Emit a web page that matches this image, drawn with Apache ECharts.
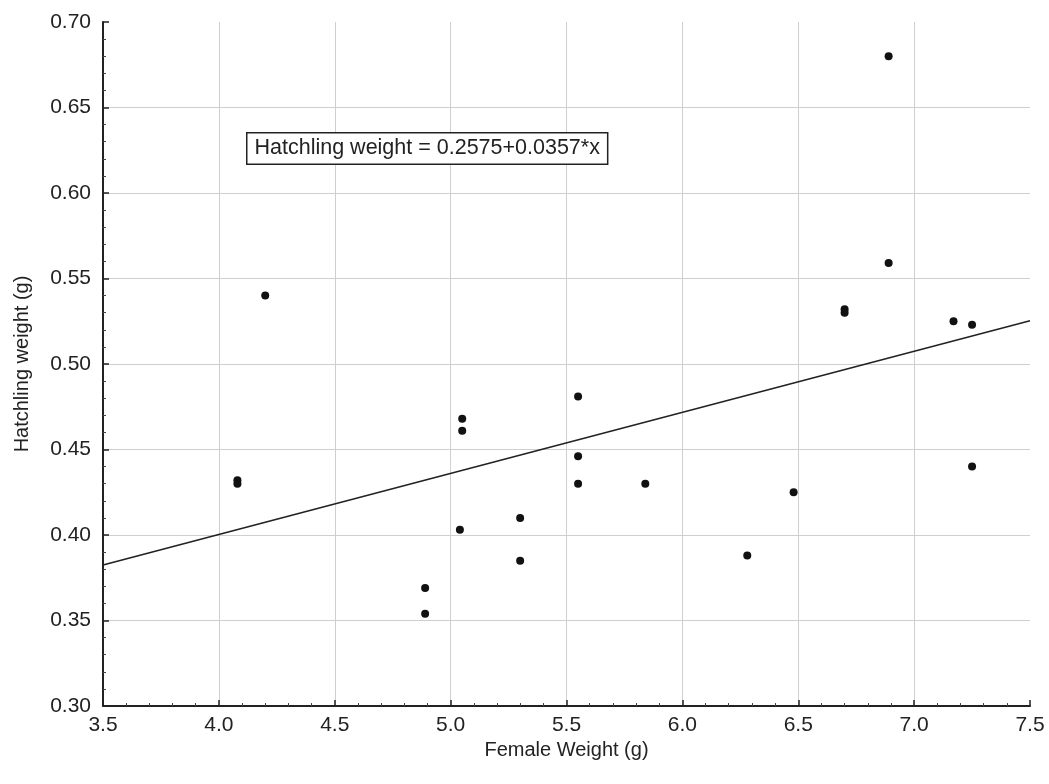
<!DOCTYPE html>
<html>
<head>
<meta charset="utf-8">
<script src="https://cdn.jsdelivr.net/npm/echarts@6/dist/echarts.min.js"></script>
<style>
html,body{margin:0;padding:0;background:#fff;}
#chart{width:1049px;height:784px;}
</style>
</head>
<body>
<div id="chart"></div>
<script>
// Data
const femaleWeight = [4.08,4.08,4.20,4.89,4.89,5.04,5.05,5.05,5.30,5.30,5.55,5.55,5.55,5.84,6.28,6.48,6.70,6.70,6.89,6.89,7.17,7.25,7.25];
const hatchlingWeight = [0.432,0.430,0.540,0.369,0.354,0.403,0.468,0.461,0.410,0.385,0.481,0.446,0.430,0.430,0.388,0.425,0.532,0.530,0.680,0.559,0.525,0.523,0.440];
const intercept = 0.2575;
const slope = 0.0357;
const fitXRange = [3.5, 7.5];
const xTitle = 'Female Weight (g)';
const yTitle = 'Hatchling weight (g)';
const equationText = 'Hatchling weight = 0.2575+0.0357*x';

const FONT = '"Liberation Sans", Arial, sans-serif';
const points = femaleWeight.map((x, i) => [x, hatchlingWeight[i]]);
const fitLine = fitXRange.map(x => [x, intercept + slope * x]);

const chart = echarts.init(document.getElementById('chart'), null, {renderer: 'canvas'});
chart.setOption({
  backgroundColor: '#fff',
  animation: false,
  grid: {left: 103, top: 22, right: 19, bottom: 78, containLabel: false},
  xAxis: {
    type: 'value', min: 3.5, max: 7.5, interval: 0.5,
    name: xTitle, nameLocation: 'middle', nameGap: 28,
    nameTextStyle: {fontFamily: FONT, fontSize: 20, color: '#222'},
    axisLine: {show: true, onZero: false, lineStyle: {color: '#222', width: 2}},
    axisTick: {show: true, inside: true, length: 6, lineStyle: {color: '#222', width: 1.5}},
    minorTick: {show: true, splitNumber: 5, length: 3, lineStyle: {color: '#444', width: 1}},
    axisLabel: {fontFamily: FONT, fontSize: 21, color: '#222', margin: 9,
      formatter: v => v.toFixed(1)},
    splitLine: {show: true, showMinLine: false, showMaxLine: false, lineStyle: {color: '#cfcfcf', width: 1}}
  },
  yAxis: {
    type: 'value', min: 0.30, max: 0.70, interval: 0.05,
    name: yTitle, nameLocation: 'middle', nameGap: 71, nameRotate: 90,
    nameTextStyle: {fontFamily: FONT, fontSize: 20, color: '#222'},
    axisLine: {show: true, onZero: false, lineStyle: {color: '#222', width: 2}},
    axisTick: {show: true, inside: true, length: 6, lineStyle: {color: '#222', width: 1.5}},
    minorTick: {show: true, splitNumber: 5, length: 3, lineStyle: {color: '#444', width: 1}},
    axisLabel: {fontFamily: FONT, fontSize: 21, color: '#222', margin: 12,
      formatter: v => v.toFixed(2)},
    splitLine: {show: true, showMinLine: false, showMaxLine: false, lineStyle: {color: '#cfcfcf', width: 1}}
  },
  series: [
    {
      type: 'line', data: fitLine, symbol: 'none', silent: true,
      lineStyle: {color: '#222', width: 1.6}, z: 2
    },
    {
      type: 'scatter', data: points, symbol: 'circle', symbolSize: 8,
      itemStyle: {color: '#111', opacity: 1}, z: 3
    }
  ],
  graphic: [{
    type: 'text', left: 246, top: 132, z: 10,
    style: {
      text: equationText, font: '21.5px ' + FONT, fill: '#222',
      backgroundColor: '#fff', borderColor: '#222', borderWidth: 1.5,
      padding: [4, 7, 4, 7]
    }
  }]
});
</script>
</body>
</html>
